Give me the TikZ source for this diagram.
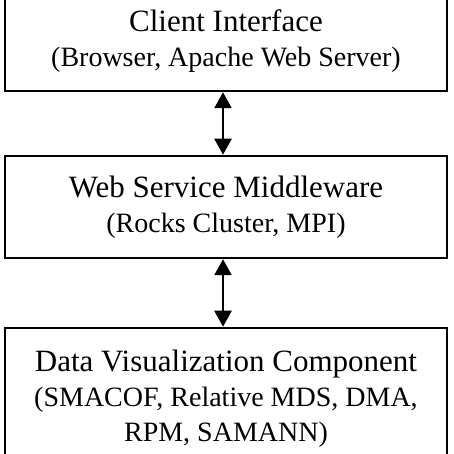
\documentclass[tikz,border=0pt]{standalone}
\usepackage{fontspec}
\setmainfont{Liberation Serif}
\usepackage{tikz}
\usetikzlibrary{positioning, arrows.meta}

\newcommand{\layertitle}[1]{{\fontsize{31bp}{35bp}\selectfont #1}}

\begin{document}
\begin{tikzpicture}[
    x=1bp, y=1bp,
    >={Triangle[width=17bp,length=16bp]},
    line width=2.5bp,
    layer/.style={draw, rectangle, minimum width=442bp, inner sep=0pt, fill=white, align=center,
        font=\fontsize{28bp}{35bp}\selectfont},
    link/.style={<->, line width=2.5bp}
]
    \useasboundingbox (0,0) rectangle (454,454);
    \clip (0,0) rectangle (454,454);

    % Layers, top to bottom
    \node[layer, minimum height=100bp] (client) at (226, 413) {\layertitle{Client Interface}\\(Browser, Apache Web Server)};
    \node[layer, minimum height=102bp] (middleware) at (226, 247) {\layertitle{Web Service Middleware}\\(Rocks Cluster, MPI)};
    \node[layer, minimum height=142bp] (dataviz) at (226, 55) {\layertitle{Data Visualization Component}\\(SMACOF, Relative MDS, DMA,\\RPM, SAMANN)};

    % Links between layers
    \draw[link] ([xshift=-3bp]client.south) -- ([xshift=-3bp]middleware.north);
    \draw[link] ([xshift=-3bp]middleware.south) -- ([xshift=-3bp]dataviz.north);

\end{tikzpicture}
\end{document}
